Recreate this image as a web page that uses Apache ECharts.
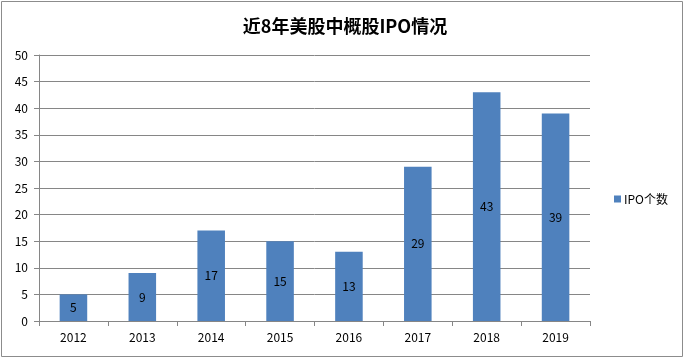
<!DOCTYPE html>
<html><head><meta charset="utf-8">
<script src="https://cdn.jsdelivr.net/npm/echarts@6/dist/echarts.min.js"></script>
<style>html,body{margin:0;padding:0;background:#fff}#c{width:685px;height:359px}</style>
</head><body><div id="c"></div>
<script>
const title = '近8年美股中概股IPO情况';
const categories = ['2012','2013','2014','2015','2016','2017','2018','2019'];
const seriesName = 'IPO个数';
const values = [5, 9, 17, 15, 13, 29, 43, 39];

const chart = echarts.init(document.getElementById('c'));
const font = '"Noto Sans CJK SC", "Noto Sans", sans-serif';
chart.setOption({
  animation: false,
  graphic: [{type:'rect', shape:{x:1.5,y:1.5,width:681,height:355}, style:{fill:'none', stroke:'#8c8c8c', lineWidth:1}}],
  title: {text: title, left: 340, top: 12, textAlign: 'center',
    textStyle: {fontFamily: font, fontSize: 18, fontWeight: 'bold', color: '#000'}},
  legend: {data:[seriesName], left: 609, top: 188, icon: 'rect', itemWidth: 7, itemHeight: 7, itemGap: 4,
    textStyle: {fontFamily: font, fontSize: 12, color: '#000', padding:[0,0,0,-2]}},
  grid: {left: 39, right: 95, top: 55, bottom: 38, containLabel: false},
  xAxis: {type: 'category', data: categories,
    axisLine: {lineStyle: {color: '#868686'}},
    axisTick: {show: true, length: 5, lineStyle: {color: '#868686'}},
    axisLabel: {fontFamily: font, fontSize: 12, color: '#000', margin: 10}},
  yAxis: {type: 'value', min: 0, max: 50, interval: 5,
    axisLine: {show: true, lineStyle: {color: '#868686'}},
    axisTick: {show: true, length: 5, inside: false, lineStyle: {color: '#868686'}},
    splitLine: {lineStyle: {color: '#868686'}},
    axisLabel: {fontFamily: font, fontSize: 12, color: '#000', margin: 11}},
  series: [{name: seriesName, type: 'bar', data: values, barWidth: '40%',
    itemStyle: {color: '#4F81BD'},
    label: {show: true, position: 'inside', fontFamily: font, fontSize: 12, color: '#000'}}]
});
</script></body></html>
